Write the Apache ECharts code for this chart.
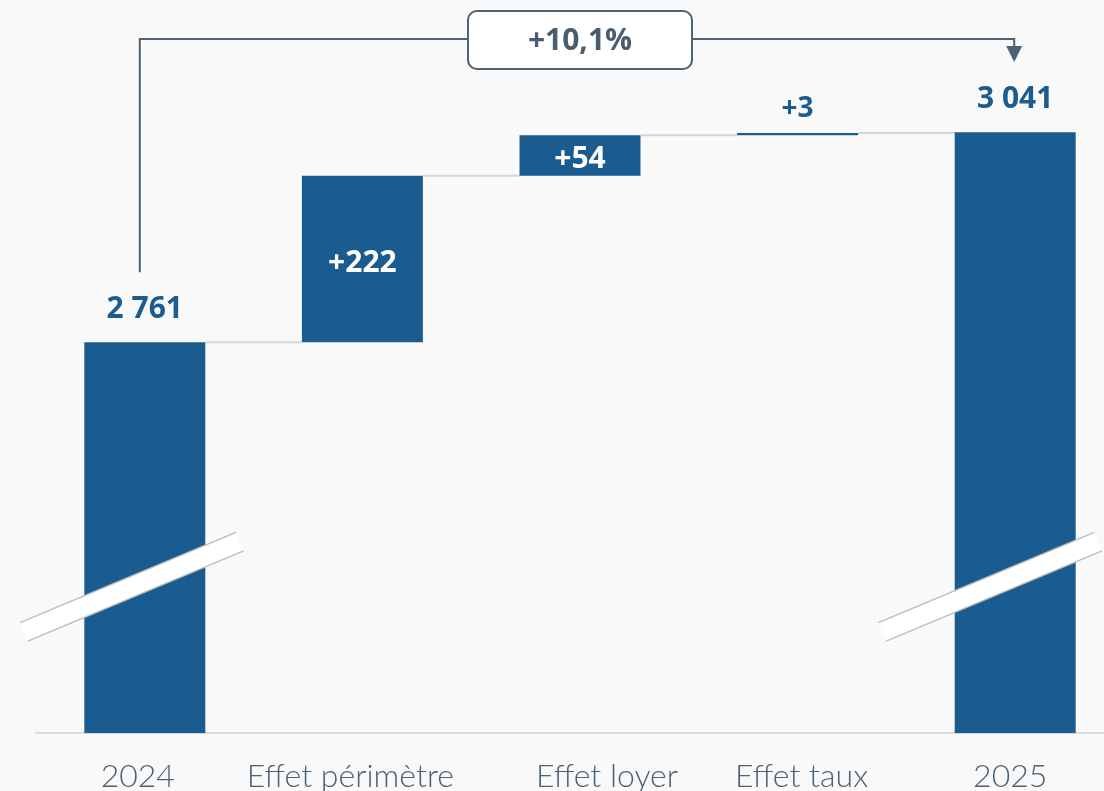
<!DOCTYPE html>
<html>
<head>
<meta charset="utf-8">
<script src="https://cdn.jsdelivr.net/npm/echarts@6/dist/echarts.min.js"></script>
<style>
  html, body { margin: 0; padding: 0; background: #f9f9f9; }
  #chart { width: 1104px; height: 791px; }
</style>
</head>
<body>
<div id="chart"></div>
<script>
// Rental income bridge 2024 -> 2025 (broken value axis)
const categories = ['2024', 'Effet périmètre', 'Effet loyer', 'Effet taux', '2025'];
const startValue = 2761;
const deltas = [222, 54, 3];
const endValue = 3041;

const AXIS_MIN = 2240;
const AXIS_MAX = 3200;
const BAR_COLOR = '#1a5c8f';
const INK = '#4d6173';
const NUM_FONT = '"Open Sans", "DejaVu Sans", sans-serif';

function fmtThousands(v) {
  return String(v).replace(/\B(?=(\d{3})+(?!\d))/g, ' ');
}
const growthPct = ((endValue / startValue - 1) * 100).toFixed(1).replace('.', ',');
const growthLabel = '+' + growthPct + '%';

// [index, low, high, label, isTotal]
const items = [];
items.push([0, AXIS_MIN, startValue, fmtThousands(startValue), 1]);
let level = startValue;
deltas.forEach((d, k) => {
  items.push([k + 1, level, level + d, '+' + d, 0]);
  level += d;
});
items.push([categories.length - 1, AXIS_MIN, endValue, fmtThousands(endValue), 1]);

// small horizontal nudges of the category captions
const captionShift = [-7, -12, 27, 4, -5];
const rich = {};
captionShift.forEach((s, i) => {
  rich['c' + i] = {
    fontFamily: 'Lato, "Open Sans", sans-serif',
    fontWeight: 300,
    fontSize: 32,
    color: INK,
    padding: [0, Math.max(0, -2 * s), 0, Math.max(0, 2 * s)]
  };
});

const BAR_RATIO = 0.556;

function renderItem(params, api) {
  const i = api.value(0);
  const lo = api.value(1);
  const hi = api.value(2);
  const item = items[params.dataIndex];
  const pLo = api.coord([i, lo]);
  const pHi = api.coord([i, hi]);
  const bw = api.size([1, 0])[0] * BAR_RATIO;
  const h = Math.max(pLo[1] - pHi[1], 2);
  const children = [{
    type: 'rect',
    shape: { x: pLo[0] - bw / 2, y: pHi[1], width: bw, height: h },
    style: { fill: BAR_COLOR }
  }];
  const inside = !item[4] && h > 30;
  if (inside) {
    children.push({
      type: 'text',
      style: {
        text: item[3], x: pLo[0], y: pHi[1] + h / 2 + 4,
        align: 'center', verticalAlign: 'middle',
        fill: '#ffffff', font: 'bold 30px ' + NUM_FONT
      }
    });
  } else {
    const small = !item[4];
    children.push({
      type: 'text',
      style: {
        text: item[3], x: pLo[0], y: pHi[1] - (small ? 24 : 33),
        align: 'center', verticalAlign: 'middle',
        fill: BAR_COLOR, font: 'bold ' + (small ? 28 : 30) + 'px ' + NUM_FONT
      }
    });
  }
  // connector to the next bar at the running level
  if (params.dataIndex < items.length - 1) {
    const pNext = api.coord([i + 1, hi]);
    children.push({
      type: 'line',
      shape: { x1: pHi[0] + bw / 2, y1: pHi[1], x2: pNext[0] - bw / 2, y2: pHi[1] },
      style: { stroke: '#d6d6d6', lineWidth: 2 },
      z2: -1
    });
  }
  return { type: 'group', children };
}

const chart = echarts.init(document.getElementById('chart'), null, { renderer: 'canvas' });

chart.setOption({
  backgroundColor: '#f9f9f9',
  animation: false,
  grid: { left: 36, width: 1088, top: 13, bottom: 58, outerBoundsMode: 'none', containLabel: false },
  xAxis: {
    type: 'category',
    data: categories,
    axisLine: { show: true, lineStyle: { color: '#d9d9d9', width: 2 } },
    axisTick: { show: false },
    axisLabel: {
      interval: 0,
      margin: 28,
      hideOverlap: false,
      formatter: (v, idx) => '{c' + idx + '|' + v + '}',
      rich
    }
  },
  yAxis: {
    type: 'value',
    min: AXIS_MIN,
    max: AXIS_MAX,
    show: false,
    splitLine: { show: false }
  },
  series: [{
    type: 'custom',
    renderItem,
    data: items,
    encode: { x: 0, y: [1, 2] },
    clip: false
  }]
});

// decorations positioned from the axes
const px = (cat, val) => chart.convertToPixel({ gridIndex: 0 }, [cat, val]);
const first = px(0, startValue);
const last = px(categories.length - 1, endValue);
const mid = px(2, startValue);
const LINE = '#4f6273';
const topY = 39;
const xa = first[0] - 5;
const xb = last[0] - 1;

function breakMark(cx, cy) {
  return {
    type: 'group', x: cx, y: cy, rotation: 0.396,
    children: [
      { type: 'rect', z: 100, shape: { x: -117, y: -10, width: 234, height: 20 }, style: { fill: '#ffffff' } },
      { type: 'line', z: 101, shape: { x1: -117, y1: -10, x2: 117, y2: -10 }, style: { stroke: '#bdbdbd', lineWidth: 1.5 } },
      { type: 'line', z: 101, shape: { x1: -117, y1: 10, x2: 117, y2: 10 }, style: { stroke: '#bdbdbd', lineWidth: 1.5 } }
    ]
  };
}
const breakY = px(0, 2435)[1];

chart.setOption({
  graphic: [
    breakMark(first[0] - 13, breakY),
    breakMark(last[0] - 25, breakY),
    {
      type: 'polyline', z: 100,
      shape: { points: [[xa, first[1] - 70], [xa, topY], [xb, topY], [xb, 47]] },
      style: { stroke: LINE, lineWidth: 2, fill: null }
    },
    {
      type: 'polygon', z: 100,
      shape: { points: [[xb - 8, 46], [xb + 8, 46], [xb, 62]] },
      style: { fill: LINE }
    },
    {
      type: 'rect', z: 101,
      shape: { x: mid[0] - 112, y: 11, width: 224, height: 58, r: 9 },
      style: { fill: '#ffffff', stroke: LINE, lineWidth: 2 }
    },
    {
      type: 'text', z: 102,
      x: mid[0], y: 41,
      style: {
        text: growthLabel, align: 'center', verticalAlign: 'middle',
        fill: '#4a5d6e', font: 'bold 30px ' + NUM_FONT
      }
    }
  ]
});
</script>
</body>
</html>
